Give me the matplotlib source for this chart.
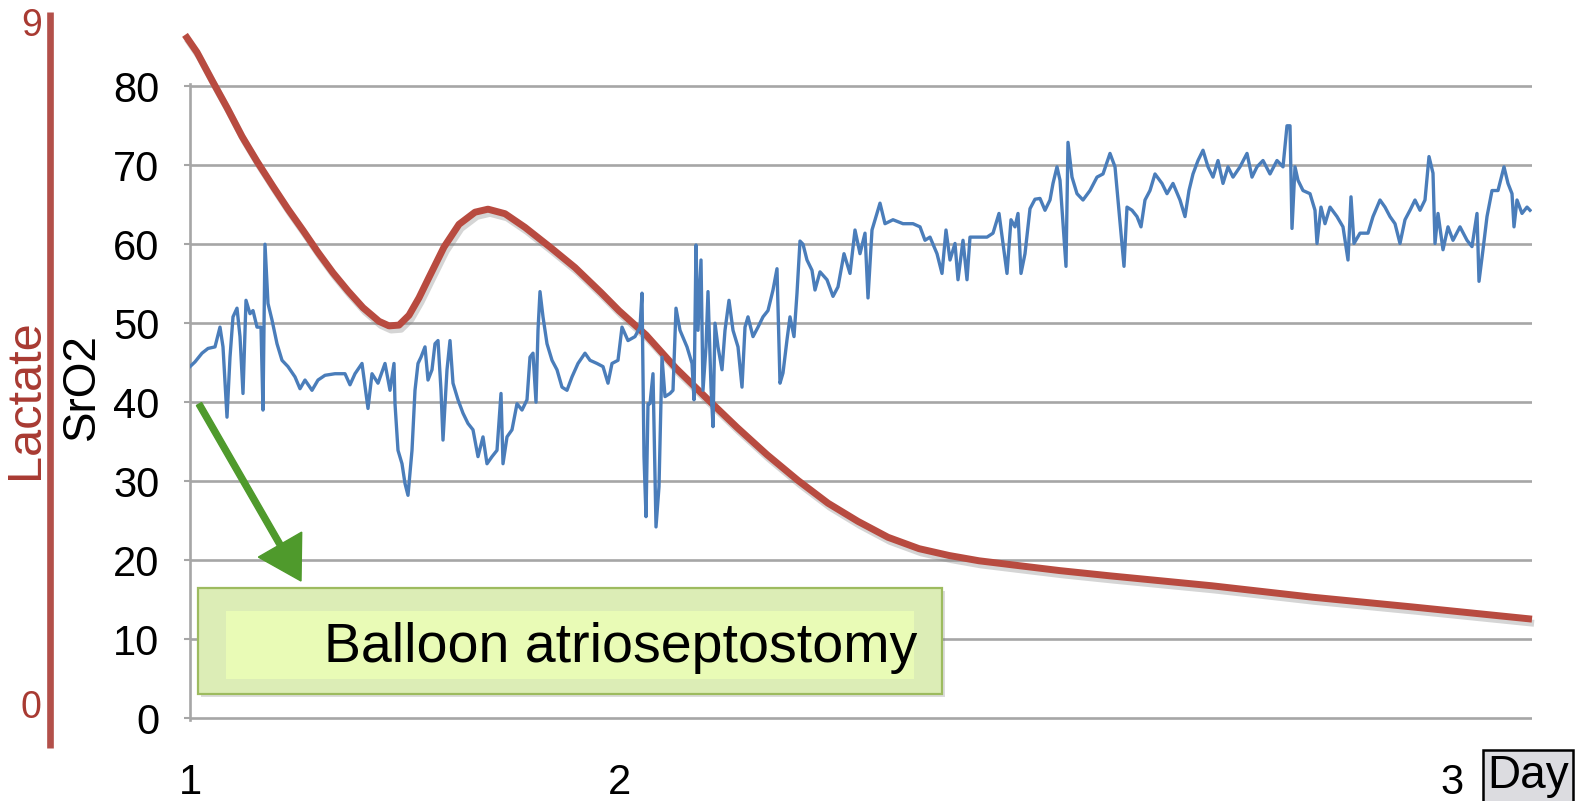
import matplotlib
matplotlib.use("Agg")
import matplotlib.pyplot as plt
import matplotlib.patheffects as pe
from matplotlib.patches import Rectangle, FancyArrow

plt.rcParams['font.family'] = ['Liberation Sans', 'DejaVu Sans']

# x positions are sample offsets along the recording (0 = start of day 1)
day_ticks = [0, 429, 1262]
day_labels = ["1", "2", "3"]

sro2_t = [
    0, 5, 12, 18, 25, 30, 33, 37, 40, 43, 47, 50, 53, 56, 60, 63, 67, 71, 73, 75,
    78, 82, 87, 92, 98, 105, 110, 115, 122, 128, 135, 145, 155, 160, 165, 172, 178, 182, 188, 195,
    200, 204, 205, 208, 212, 215, 218, 222, 225, 228, 231, 235, 238, 242, 245, 248, 251, 253, 257, 260,
    263, 268, 273, 278, 283, 288, 293, 297, 302, 307, 311, 313, 317, 322, 327, 332, 337, 340, 343, 346,
    348, 350, 353, 357, 362, 367, 372, 377, 382, 388, 395, 400, 407, 413, 418, 422, 428, 432, 438, 445,
    450, 452, 454, 456, 458, 460, 463, 466, 469, 472, 475, 480, 483, 486, 490, 497, 502, 504, 506, 508,
    511, 513, 516, 518, 521, 523, 525, 528, 532, 535, 539, 543, 548, 552, 555, 558, 563, 568, 573, 578,
    583, 587, 590, 593, 597, 600, 604, 607, 610, 613, 617, 622, 625, 630, 637, 643, 648, 654, 660, 665,
    670, 675, 678, 682, 686, 690, 695, 703, 713, 723, 730, 735, 740, 747, 752, 756, 760, 765, 768, 773,
    777, 780, 787, 797, 803, 809, 813, 817, 821, 825, 828, 831, 835, 840, 845, 850, 855, 860, 863, 867,
    870, 873, 876, 878, 882, 887, 893, 900, 907, 913, 920, 925, 928, 932, 934, 937, 942, 947, 951, 955,
    960, 965, 972, 977, 983, 990, 995, 999, 1003, 1008, 1013, 1018, 1023, 1028, 1033, 1038, 1043, 1050, 1057, 1062,
    1067, 1073, 1080, 1087, 1093, 1097, 1100, 1102, 1105, 1108, 1113, 1120, 1125, 1127, 1131, 1135, 1140, 1147, 1153, 1158,
    1161, 1164, 1170, 1178, 1183, 1190, 1195, 1200, 1205, 1210, 1215, 1220, 1225, 1230, 1235, 1239, 1243, 1245, 1248, 1253,
    1258, 1263, 1270, 1277, 1282, 1287, 1289, 1293, 1297, 1302, 1308, 1314, 1318, 1322, 1324, 1327, 1332, 1337, 1340,
]
sro2 = [
    44.5, 45.1, 46.2, 46.8, 47.0, 49.5, 47.0, 38.1, 45.7, 50.8, 51.9, 48.3, 41.1, 52.9, 51.2, 51.6, 49.5, 49.5, 39.0, 60.0,
    52.5, 50.4, 47.4, 45.3, 44.5, 43.2, 41.7, 42.8, 41.5, 42.8, 43.4, 43.6, 43.6, 42.2, 43.6, 44.9, 39.2, 43.6, 42.4, 44.9,
    41.5, 44.9, 39.8, 33.9, 32.2, 29.7, 28.2, 33.9, 41.5, 44.9, 45.7, 47.0, 42.8, 44.1, 47.4, 47.8, 41.5, 35.2, 44.1, 47.8,
    42.4, 40.3, 38.6, 37.3, 36.5, 33.1, 35.6, 32.2, 33.1, 33.9, 41.1, 32.2, 35.6, 36.5, 39.8, 39.0, 40.3, 45.7, 46.2, 40.0,
    49.1, 54.0, 50.8, 47.4, 45.3, 44.1, 41.9, 41.5, 43.2, 44.9, 46.2, 45.3, 44.9, 44.5, 42.4, 44.9, 45.3, 49.5, 47.8, 48.3,
    49.5, 53.8, 33.1, 25.5, 39.8, 39.8, 43.6, 24.2, 29.3, 45.7, 40.7, 41.1, 41.5, 51.9, 49.1, 47.0, 44.9, 40.3, 59.9, 49.1,
    58.0, 41.5, 47.0, 54.0, 41.9, 36.9, 50.0, 47.0, 44.1, 49.1, 52.9, 49.1, 47.0, 41.9, 49.5, 50.8, 48.3, 49.5, 50.8, 51.6,
    54.2, 56.9, 42.4, 43.7, 47.9, 50.8, 48.3, 53.8, 60.4, 60.0, 58.0, 56.7, 54.2, 56.5, 55.5, 53.4, 54.6, 58.8, 56.3, 61.8,
    58.8, 61.4, 53.2, 61.8, 63.5, 65.2, 62.6, 63.1, 62.6, 62.6, 62.2, 60.5, 60.9, 58.8, 56.3, 61.8, 58.0, 60.1, 55.5, 60.5,
    55.5, 60.9, 60.9, 60.9, 61.4, 63.9, 60.1, 56.3, 63.1, 62.2, 63.9, 56.3, 58.8, 64.5, 65.7, 65.8, 64.3, 65.6, 67.7, 69.8,
    68.1, 62.6, 57.2, 72.9, 68.5, 66.4, 65.6, 66.8, 68.5, 68.9, 71.5, 69.8, 65.6, 60.1, 57.2, 64.7, 64.3, 63.5, 62.2, 65.6,
    66.8, 68.9, 67.7, 66.4, 67.7, 65.6, 63.5, 66.8, 68.9, 70.6, 71.9, 69.8, 68.5, 70.6, 67.7, 69.8, 68.5, 69.8, 71.5, 68.5,
    69.8, 70.6, 68.9, 70.6, 69.8, 75.0, 75.0, 62.0, 69.8, 68.1, 66.8, 66.4, 64.3, 60.1, 64.7, 62.6, 64.7, 63.5, 62.2, 58.0,
    66.0, 60.1, 61.4, 61.4, 63.5, 65.6, 64.7, 63.5, 62.6, 60.1, 63.1, 64.3, 65.6, 64.3, 65.6, 71.1, 69.0, 60.1, 63.9, 59.3,
    62.2, 60.5, 62.2, 60.5, 59.7, 63.9, 55.3, 59.3, 63.5, 66.8, 66.8, 69.8, 67.7, 66.4, 62.2, 65.6, 63.9, 64.7, 64.3,
]

lactate_t = [-5, 7, 22, 37, 52, 67, 83, 98, 113, 128, 143, 158, 173, 189, 199, 209, 219, 229, 239, 254,
             269, 285, 298, 315, 335, 360, 385, 411, 429, 456, 486, 517, 547, 577, 608, 638, 668, 698, 729, 759,
             789, 820, 870, 921, 1022, 1122, 1223, 1342]
lactate = [8.83, 8.60, 8.23, 7.87, 7.49, 7.16, 6.83, 6.53, 6.25, 5.96, 5.69, 5.45, 5.23, 5.05, 4.99, 5.00, 5.13, 5.36, 5.63, 6.03,
           6.33, 6.49, 6.53, 6.47, 6.29, 6.03, 5.76, 5.43, 5.19, 4.87, 4.43, 4.03, 3.65, 3.29, 2.95, 2.65, 2.41, 2.20, 2.05, 1.96,
           1.89, 1.84, 1.76, 1.69, 1.56, 1.41, 1.28, 1.12]

sro2_ticks = list(range(0, 81, 10))
lactate_ticks = [0, 9]

W, H = 1583, 801
BLUE = "#4a7dba"
RED = "#b84b40"
RED_TXT = "#a83a32"
GRID = "#a6a6a6"
GREEN = "#4f9a2c"


def fx(px):
    return px / W


def fy(px_top):
    return (H - px_top) / H


fig = plt.figure(figsize=(W / 100, H / 100), dpi=100)

# lactate scale: 0 at y=704, 9 at y=22 (pixels from top)
lac_per_px = 9 / (704 - 22)
lac_lo = -(748 - 704) * lac_per_px
lac_hi = 9 + (22 - 12) * lac_per_px
ax2 = fig.add_axes([fx(190), fy(748), fx(1532) - fx(190), (748 - 12) / H])
ax2.set_xlim(0, 1342)
ax2.set_ylim(lac_lo, lac_hi)
ax2.patch.set_visible(False)
for s in ["top", "right", "bottom"]:
    ax2.spines[s].set_visible(False)
ax2.spines["left"].set_position(("outward", 140 * 0.72))
ax2.spines["left"].set_color("#b3504a")
ax2.spines["left"].set_linewidth(4.8)
ax2.spines["left"].set_capstyle("butt")
ax2.set_xticks([])
ax2.set_yticks(lactate_ticks)
ax2.set_yticklabels([str(v) for v in lactate_ticks])
ax2.tick_params(axis="y", length=0, pad=6, labelsize=27, labelcolor=RED_TXT)
ax2.set_ylabel("Lactate", color=RED_TXT, fontsize=35, va="center")
ax2.yaxis.set_label_coords((26 - 190) / 1342, (748 - 399) / 736)

# SrO2 scale: 0 at y=718, 80 at y=86.3
px_per = (718 - 86.3) / 80
ax = fig.add_axes([fx(190), fy(718 + 0.3 * px_per), fx(1532) - fx(190), (80.6 * px_per) / H])
ax.set_xlim(0, 1342)
ax.set_ylim(-0.3, 80.3)
ax.patch.set_visible(False)
ax.set_axisbelow(True)
for s in ["top", "right", "bottom"]:
    ax.spines[s].set_visible(False)
ax.spines["left"].set_color(GRID)
ax.spines["left"].set_linewidth(1.9)
ax.set_yticks(sro2_ticks)
ax.yaxis.grid(True, color=GRID, linewidth=1.9)
ax.tick_params(axis="y", length=4, width=1.5, color=GRID, pad=18, labelsize=30)
ax.set_xticks(day_ticks)
ax.set_xticklabels(day_labels)
ax.tick_params(axis="x", length=0, pad=31, labelsize=30)
ax.set_ylabel("SrO2", fontsize=33, va="center")
ax.yaxis.set_label_coords((82 - 190) / 1342, (718 - 387) / 632)

ax.plot(lactate_t, lactate, color=RED, lw=5.0, transform=ax2.transData, clip_on=False,
        solid_capstyle="butt", solid_joinstyle="round", zorder=2,
        path_effects=[pe.SimpleLineShadow(offset=(1.5, -3), shadow_color="#888888", alpha=0.35),
                      pe.Normal()])
ax.plot(sro2_t, sro2, color=BLUE, lw=2.4, zorder=3)

# annotation box
fig.add_artist(Rectangle((2.01, 1.04), 7.44, 1.06, transform=fig.dpi_scale_trans,
                         fc="#777777", ec="none", alpha=0.25))
fig.add_artist(Rectangle((1.98, 1.07), 7.44, 1.06, transform=fig.dpi_scale_trans,
                         fc="#dcedb6", ec="#9dbb5f", lw=1.6))
fig.add_artist(Rectangle((2.26, 1.22), 6.88, 0.68, transform=fig.dpi_scale_trans,
                         fc="#e9fbb6", ec="none"))
fig.text(fx(324), (H - 662) / H, "Balloon atrioseptostomy", fontsize=40, va="baseline", ha="left")

fig.add_artist(FancyArrow(1.99, (H - 404) / 100, 1.02, -1.77, width=0.06, head_width=0.5,
                          head_length=0.42, length_includes_head=True, color=GREEN,
                          transform=fig.dpi_scale_trans))

fig.text(fx(1528), fy(776), "Day", fontsize=33, ha="center", va="center",
         bbox=dict(boxstyle="square,pad=0.08", fc="#dcdce0", ec="black", lw=1.8))

fig.savefig("out.png", dpi=100)
